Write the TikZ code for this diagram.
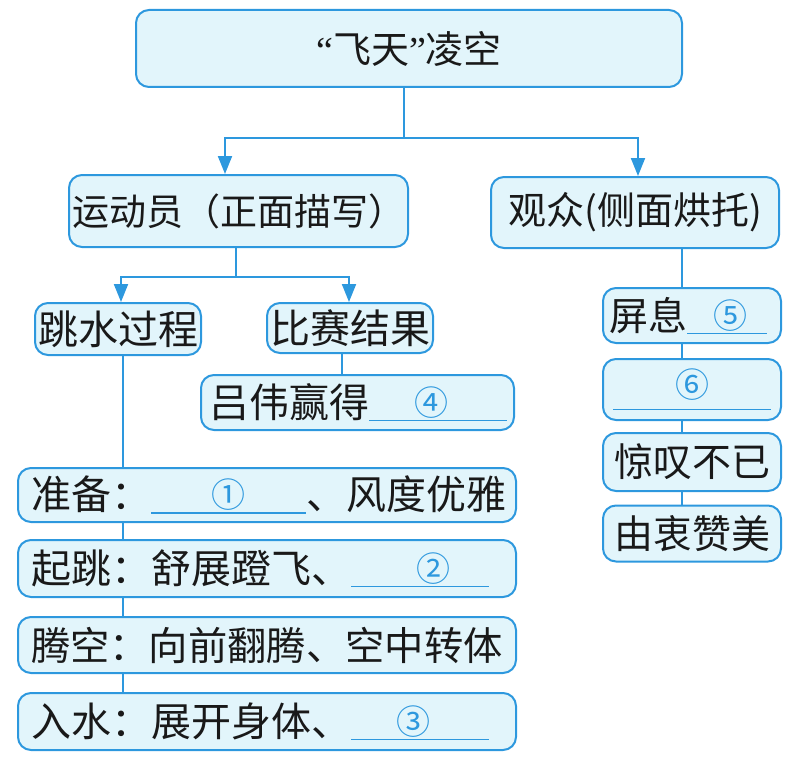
\documentclass[tikz,border=0pt]{standalone}
\usepackage{fontspec}
\setmainfont{Noto Sans CJK SC}
\newfontfamily\quotefont{Liberation Serif}
\usetikzlibrary{arrows.meta}
\definecolor{lb}{RGB}{45,152,222}
\definecolor{lf}{RGB}{226,245,251}
\newcommand\myfs[1]{\fontsize{#1}{#1}\selectfont}
% \myblank[raise]{width}{shift}{number}
\newcommand\myblank[4][2pt]{{\color{lb}\rlap{\rule[-4pt]{#2}{1.5pt}}\makebox[#2]{\hspace{#3}\raisebox{#1}{\myfs{34}#4}}}}
\begin{document}
\begin{tikzpicture}[x=1pt,y=-1pt,
  boxst/.style={draw=lb, fill=lf, line width=2pt, rounded corners=13pt, inner sep=0pt, text=black!90},
  lbox/.style={align=left},
  stepbox/.style={boxst, lbox, text width=472pt, inner xsep=13pt, font=\myfs{40}},
  conn/.style={draw=lb, line width=2pt},
  arr/.style={conn, -{Triangle[width=14pt,length=18pt]}}]
\useasboundingbox (0,0) rectangle (789,757);
% nodes
\node[boxst, minimum width=546pt, minimum height=77pt, font=\myfs{38}] (top) at (409,48.5) {{\quotefont “}飞天{\quotefont ”}凌空};
\node[boxst, minimum width=339pt, minimum height=72pt, font=\myfs{37}] (ath) at (238.5,211) {运动员（正面描写）};
\node[boxst, minimum width=288pt, minimum height=71pt, font=\myfs{38}] (aud) at (635,212.5) {观众(侧面烘托)};
\node[boxst, minimum width=166pt, minimum height=52pt, font=\myfs{40}] (jump) at (118,329) {跳水过程};
\node[boxst, minimum width=166pt, minimum height=50pt, font=\myfs{40}] (res) at (350,328) {比赛结果};
\node[boxst, lbox, text width=297pt, inner xsep=8pt, minimum height=55pt, font=\myfs{40}] (lv) at (357.5,402.5) {吕伟赢得\myblank{138pt}{-14pt}{④}};
\node[stepbox, minimum height=54pt] (prep) at (267,495) {准备：\myblank{155pt}{0pt}{①}、风度优雅};
\node[stepbox, minimum height=57pt] (takeoff) at (267,568.5) {起跳：舒展蹬飞、\myblank{138pt}{26pt}{②}};
\node[stepbox, minimum height=56pt, font=\myfs{39.3}] (air) at (267,645) {腾空：向前翻腾、空中转体};
\node[stepbox, minimum height=57pt] (entry) at (267,721.5) {入水：展开身体、\myblank{138pt}{-14pt}{③}};
\node[boxst, lbox, text width=166pt, inner xsep=6pt, minimum height=55pt, font=\myfs{39}] (r1) at (692,315.5) {屏息\myblank{80pt}{6pt}{⑤}};
\node[boxst, minimum width=178pt, minimum height=61pt, font=\myfs{39}] (r2) at (692,389.5) {\myblank[9pt]{158pt}{0pt}{⑥}};
\node[boxst, minimum width=178pt, minimum height=58pt, font=\myfs{39}] (r3) at (692,462) {惊叹不已};
\node[boxst, minimum width=178pt, minimum height=56pt, font=\myfs{39}] (r4) at (692,533.5) {由衷赞美};
% junction coordinates
\coordinate (j1) at (404,138);
\coordinate (a1) at (225,0);
\coordinate (a2) at (638,0);
\coordinate (j2) at (236,277);
\coordinate (b1) at (121,0);
\coordinate (b2) at (349,0);
\coordinate (c1) at (342,0);
\coordinate (s1) at (123,0);
\coordinate (s2) at (682,0);
% connectors
\draw[conn] (top.south -| j1) -- (j1);
\draw[arr] (j1) -| (ath.north -| a1);
\draw[arr] (j1) -| (aud.north -| a2);
\draw[conn] (ath.south -| j2) -- (j2);
\draw[arr] (j2) -| (jump.north -| b1);
\draw[arr] (j2) -| (res.north -| b2);
\draw[conn] (res.south -| c1) -- (lv.north -| c1);
\draw[conn] (jump.south -| s1) -- (prep.north -| s1);
\draw[conn] (prep.south -| s1) -- (takeoff.north -| s1);
\draw[conn] (takeoff.south -| s1) -- (air.north -| s1);
\draw[conn] (air.south -| s1) -- (entry.north -| s1);
\draw[conn] (aud.south -| s2) -- (r1.north -| s2);
\draw[conn] (r1.south -| s2) -- (r2.north -| s2);
\draw[conn] (r2.south -| s2) -- (r3.north -| s2);
\draw[conn] (r3.south -| s2) -- (r4.north -| s2);
\end{tikzpicture}
\end{document}
